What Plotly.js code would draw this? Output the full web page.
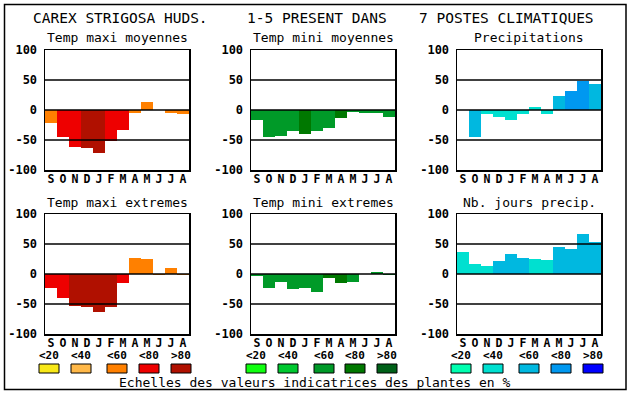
<!DOCTYPE html>
<html><head><meta charset="utf-8">
<script src="https://cdn.plot.ly/plotly-3.0.1.min.js"></script>
<style>html,body{margin:0;padding:0;background:#fff}#c{width:630px;height:394px}</style>
</head><body><div id="c"></div>
<script>
const months = ['S','O','N','D','J','F','M','A','M','J','J','A'];
const yTicks = [-100,-50,0,50,100];
const titles = ['Temp maxi moyennes','Temp mini moyennes','Precipitations','Temp maxi extremes','Temp mini extremes','Nb. jours precip.'];
const tmaxMoy    = [-22,-45,-62,-64,-71,-52,-34,-5,13,0,-5,-7];
const tmaxMoyLvl = [2,3,3,4,4,3,3,2,2,2,2,2];
const tminMoy    = [-17,-45,-44,-35,-40,-35,-30,-14,-4,-5,-5,-12];
const tminMoyLvl = [2,2,2,2,3,2,2,3,2,2,2,2];
const precip     = [0,-45,-7,-12,-17,-7,5,-7,24,32,49,44];
const precipLvl  = [1,2,1,1,1,1,1,1,2,3,3,2];
const tmaxExt    = [-23,-40,-54,-55,-64,-55,-15,27,25,-2,10,-2];
const tmaxExtLvl = [3,3,4,4,4,4,3,2,2,2,2,2];
const tminExt    = [-4,-24,-14,-25,-24,-30,-7,-15,-14,0,4,-2];
const tminExtLvl = [2,2,2,2,2,2,3,3,2,2,2,2];
const nbJours    = [37,17,14,22,34,27,25,24,45,42,67,54];
const nbJoursLvl = [1,1,1,2,2,2,1,1,2,2,2,2];
const scaleLabels = ['<20','<40','<60','<80','>80'];
const palMax = ['#f8e818','#ffb848','#ff8000','#ee0000','#b01000'];
const palMin = ['#10ff10','#00c830','#009a28','#007800','#006018'];
const palPre = ['#00ffb0','#00e0d0','#00b8e0','#0098f0','#0000ff'];
const mainTitle = ['CAREX STRIGOSA HUDS.','1-5 PRESENT DANS','7 POSTES CLIMATIQUES'];
const footer = 'Echelles des valeurs indicatrices des plantes en %';

const W=630,H=394;
const FONT='DejaVu Sans Mono';
const series = [
  [tmaxMoy,tmaxMoyLvl,palMax],[tminMoy,tminMoyLvl,palMin],[precip,precipLvl,palPre],
  [tmaxExt,tmaxExtLvl,palMax],[tminExt,tminExtLvl,palMin],[nbJours,nbJoursLvl,palPre]
];
const colsPx=[[45,189],[251,395],[457,601]];
const rowsPx=[[50,170],[214,334]];
const px=x=>x/W, py=y=>1-y/H;

const data=[],shapes=[],annotations=[];
const layout={width:W,height:H,margin:{l:0,r:0,t:0,b:0},showlegend:false,
  paper_bgcolor:'#fff',plot_bgcolor:'#fff',bargap:0,font:{family:FONT,color:'#000'}};

series.forEach((s,i)=>{
  const r=Math.floor(i/3),c=i%3,n=i+1;
  const xa='x'+(n===1?'':n), ya='y'+(n===1?'':n);
  data.push({type:'bar',x:months.map((m,k)=>k),y:s[0],xaxis:xa,yaxis:ya,
    marker:{color:s[1].map(l=>s[2][l]),line:{width:0}},width:1,hoverinfo:'skip'});
  const xk='xaxis'+(n===1?'':n), yk='yaxis'+(n===1?'':n);
  layout[xk]={domain:[px(colsPx[c][0]),px(colsPx[c][1])],anchor:ya,range:[-0.5,11.5],
    tickvals:months.map((m,k)=>k),ticktext:months,showgrid:false,zeroline:false,
    showline:true,mirror:true,linecolor:'#000',linewidth:1.5,ticks:'',ticklabelstandoff:-2,
    tickfont:{family:FONT,size:11.5,color:'#000',weight:'bold'},fixedrange:true};
  layout[yk]={domain:[py(rowsPx[r][1]),py(rowsPx[r][0])],anchor:xa,range:[-100,100],
    tickvals:yTicks,ticktext:yTicks.map(String),showgrid:false,zeroline:false,
    showline:true,mirror:true,linecolor:'#000',linewidth:1.5,ticks:'outside',ticklen:4,tickcolor:'rgba(0,0,0,0)',
    tickfont:{family:FONT,size:12,color:'#000',weight:'bold'},fixedrange:true};
  [-50,0,50].forEach(v=>shapes.push({type:'line',xref:xa+' domain',yref:ya,x0:0,x1:1,y0:v,y1:v,
    line:{color:'#000',width:1.5},layer:'above'}));
  annotations.push({text:titles[i],xref:'paper',yref:'paper',x:px((colsPx[c][0]+colsPx[c][1])/2),
    y:py(rowsPx[r][0]-12),xanchor:'center',yanchor:'middle',showarrow:false,
    font:{family:FONT,size:13,color:'#000'}});
});
// main title
const tx=[120,317,506];
mainTitle.forEach((t,k)=>annotations.push({text:t,xref:'paper',yref:'paper',x:px(tx[k]),y:py(18),
  xanchor:'center',yanchor:'middle',showarrow:false,font:{family:FONT,size:14.5,color:'#000'}}));
// legend scales
const swX=[[39,71,107,139,171],[246,278,314,345,377],[451,483,519,551,583]];
[palMax,palMin,palPre].forEach((pal,g)=>{
  pal.forEach((col,k)=>{
    const x0=swX[g][k];
    shapes.push({type:'rect',xref:'paper',yref:'paper',x0:px(x0),x1:px(x0+20),y0:py(373),y1:py(364),
      fillcolor:col,line:{color:'#000',width:1}});
    annotations.push({text:scaleLabels[k],xref:'paper',yref:'paper',x:px(x0+10),y:py(355),
      xanchor:'center',yanchor:'middle',showarrow:false,font:{family:FONT,size:11,color:'#000',weight:'bold'}});
  });
});
annotations.push({text:footer,xref:'paper',yref:'paper',x:px(315),y:py(382),xanchor:'center',yanchor:'middle',
  showarrow:false,font:{family:FONT,size:13,color:'#000'}});
// outer frame
shapes.push({type:'rect',xref:'paper',yref:'paper',x0:px(4.5),x1:px(626),y0:py(389.5),y1:py(4.5),
  line:{color:'#000',width:1.5},fillcolor:'rgba(0,0,0,0)'});
layout.shapes=shapes;layout.annotations=annotations;
Plotly.newPlot('c',data,layout,{staticPlot:true,displayModeBar:false});
</script></body></html>
